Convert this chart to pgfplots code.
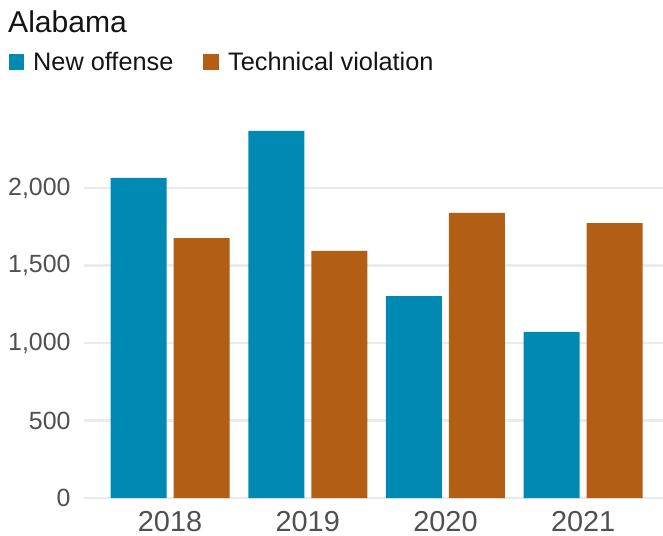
\documentclass[border=0pt]{standalone}
\usepackage{pgfplots}
\pgfplotsset{compat=1.18}
\usepackage{fontspec}
\setmainfont{Liberation Sans}
\definecolor{cblue}{HTML}{008AB3}
\definecolor{corange}{HTML}{B25E15}
\definecolor{gridc}{HTML}{EBEBEB}
\definecolor{tickc}{HTML}{505050}
\definecolor{txt}{HTML}{141414}
\begin{document}
\begin{tikzpicture}
\useasboundingbox (-84bp,-38bp) rectangle (579bp,498bp);
\begin{axis}[
  at={(0,0)}, anchor=south west,
  scale only axis,
  width=579bp, height=379.75bp,
  xmin=-0.625, xmax=3.58,
  ymin=0, ymax=2450,
  ybar=7bp, bar width=56bp,
  axis line style={draw=none},
  major tick length=0pt,
  ymajorgrids, grid style={gridc, line width=2.2bp},
  xtick={0,1,2,3},
  xticklabels={2018,2019,2020,2021},
  ytick={0,500,1000,1500,2000},
  yticklabels={0,500,{1,000},{1,500},{2,000}},
  xticklabel style={anchor=base, yshift=-33.5bp, inner sep=0pt, text depth=0pt, font=\fontsize{29}{32}\selectfont, text=tickc},
  yticklabel style={anchor=east, xshift=-13.3bp, inner sep=0pt, font=\fontsize{25}{28}\selectfont, text=tickc},
  clip=false,
]
\addplot[fill=cblue, draw=none] coordinates {(0,2065) (1,2368) (2,1303) (3,1071)};
\addplot[fill=corange, draw=none] coordinates {(0,1677) (1,1595) (2,1839) (3,1774)};
\end{axis}
\node[anchor=base west, inner sep=0pt, text=txt, font=\fontsize{30.2}{33}\selectfont] at (-76bp,465bp) {Alabama};
\fill[cblue] (-75bp,428bp) rectangle (-60bp,444bp);
\node[anchor=base west, inner sep=0pt, text=txt, font=\fontsize{25.4}{28}\selectfont] at (-51bp,427.3bp) {New offense};
\fill[corange] (119bp,428bp) rectangle (135bp,444bp);
\node[anchor=base west, inner sep=0pt, text=txt, font=\fontsize{25.4}{28}\selectfont] at (144bp,427.3bp) {Technical violation};
\end{tikzpicture}
\end{document}
